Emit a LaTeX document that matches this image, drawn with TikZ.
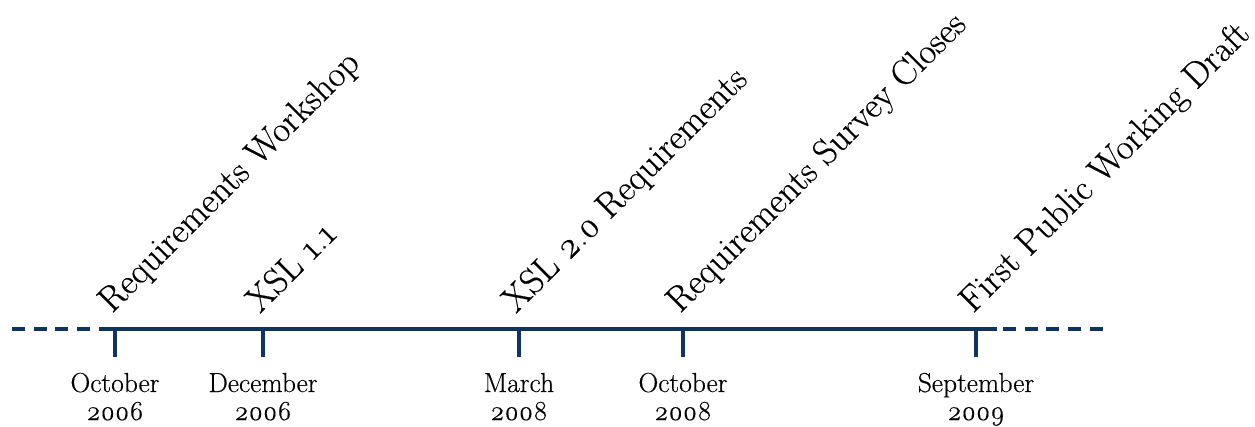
\documentclass[tikz,border=0pt]{standalone}
\usepackage{fontspec}
\setmainfont{Latin Modern Roman}[Numbers=OldStyle,FakeBold=0.4]
\definecolor{axisblue}{HTML}{0F3461}
\begin{document}
\begin{tikzpicture}[x=1pt,y=1pt,
  axis/.style={draw=axisblue,line width=3.2pt},
  axisdash/.style={axis,dash pattern=on 13pt off 8.7pt},
  tickmark/.style={draw=axisblue,line width=3.2pt},
  datelabel/.style={font=\fontsize{27.5}{28}\selectfont,align=center,anchor=base,inner sep=0pt},
  eventlabel/.style={font=\fontsize{36}{40}\selectfont,rotate=45,anchor=base west,inner sep=0pt}]
\useasboundingbox (0,0) rectangle (1255,426);

% axis end points
\coordinate (farleft) at (12,97);
\coordinate (solidstart) at (100,97);
\coordinate (solidend) at (997,97);
\coordinate (dashstart) at (1003,97);
\coordinate (farright) at (1106,97);

% tick positions on the axis
\coordinate (t1) at (115,97);
\coordinate (t2) at (263,97);
\coordinate (t3) at (519,97);
\coordinate (t4) at (683,97);
\coordinate (t5) at (976,97);
\coordinate (b1) at (115,69);
\coordinate (b2) at (263,69);
\coordinate (b3) at (519,69);
\coordinate (b4) at (683,69);
\coordinate (b5) at (976,69);

% timeline
\draw[axisdash] (farleft) -- (solidstart);
\draw[axis] (solidstart) -- (solidend);
\draw[axisdash] (dashstart) -- (farright);
\foreach \i in {1,...,5} \draw[tickmark] (t\i) -- (b\i);

% dates under the ticks (anchored on the baseline of the year)
\node[datelabel] (d1) at (115,6) {October\\2006};
\node[datelabel] (d2) at (263,6) {December\\2006};
\node[datelabel] (d3) at (519,6) {March\\2008};
\node[datelabel] (d4) at (683,6) {October\\2008};
\node[datelabel] (d5) at (976,6) {September\\2009};

% milestones above the ticks
\node[eventlabel] (e1) at (112,112) {Requirements Workshop};
\node[eventlabel] (e2) at (260,112) {XSL 1.1};
\node[eventlabel] (e3) at (516,112) {XSL 2.0 Requirements};
\node[eventlabel] (e4) at (680,112) {Requirements Survey Closes};
\node[eventlabel] (e5) at (973,112) {First Public Working Draft};
\end{tikzpicture}
\end{document}
